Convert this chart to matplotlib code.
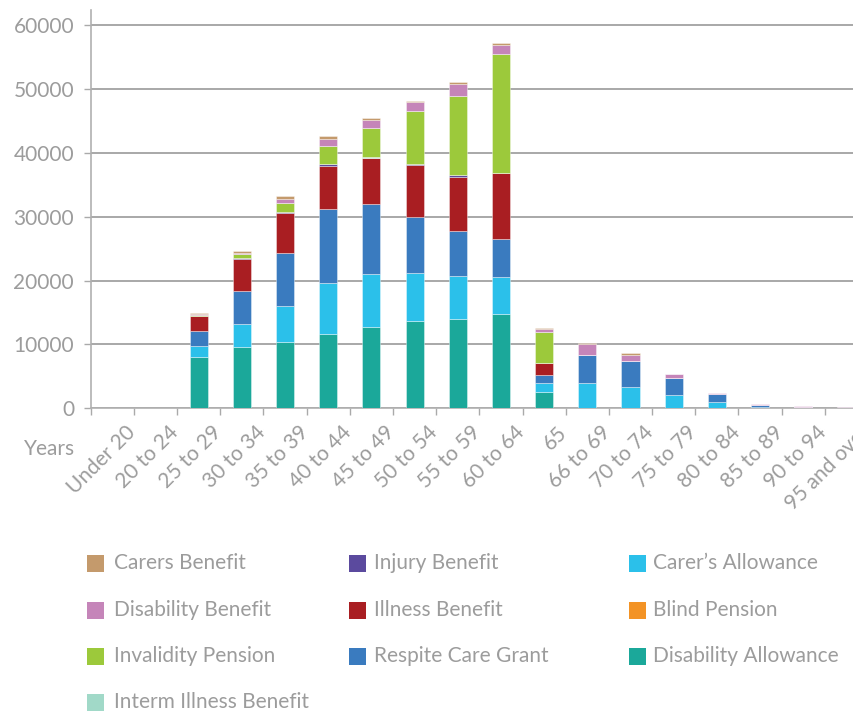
import matplotlib
matplotlib.use("Agg")
import matplotlib.pyplot as plt
from matplotlib.patches import Rectangle
from matplotlib.transforms import ScaledTranslation
import numpy as np

categories = ["Under 20", "20 to 24", "25 to 29", "30 to 34", "35 to 39", "40 to 44",
              "45 to 49", "50 to 54", "55 to 59", "60 to 64", "65", "66 to 69",
              "70 to 74", "75 to 79", "80 to 84", "85 to 89", "90 to 94", "95 and over"]

disability_allowance = [0, 0, 8040, 9600, 10400, 11640, 12800, 13630, 14030, 14810, 2630, 0, 0, 0, 0, 0, 0, 0]
carers_allowance     = [0, 0, 1780, 3670, 5600, 7940, 8240, 7620, 6680, 5700, 1340, 4030, 3360, 2150, 940, 200, 80, 40]
respite_care_grant   = [0, 0, 2240, 5160, 8400, 11600, 11030, 8720, 7000, 5950, 1170, 4290, 4020, 2560, 1250, 250, 150, 70]
illness_benefit      = [0, 0, 2400, 4970, 6130, 6840, 7130, 8080, 8550, 10330, 1940, 0, 0, 0, 50, 50, 0, 0]
injury_benefit       = [0, 0, 0, 150, 150, 200, 80, 200, 220, 80, 0, 0, 0, 0, 0, 0, 0, 0]
interm_illness       = [0, 0, 0, 0, 0, 0, 100, 0, 0, 0, 0, 0, 0, 0, 0, 0, 0, 0]
invalidity_pension   = [0, 0, 200, 650, 1520, 2930, 4580, 8250, 12520, 18710, 4810, 0, 0, 0, 0, 0, 0, 0]
blind_pension        = [0, 0, 0, 0, 0, 0, 0, 0, 0, 0, 0, 0, 0, 0, 0, 0, 0, 0]
disability_benefit   = [0, 0, 100, 200, 570, 990, 1270, 1500, 1880, 1350, 470, 1680, 940, 690, 160, 180, 130, 90]
carers_benefit       = [0, 0, 200, 200, 470, 460, 200, 220, 210, 260, 180, 160, 270, 50, 0, 0, 0, 0]

# stacking order bottom -> top
series = [
    ("Disability Allowance", disability_allowance, "#1BA89A"),
    ("Carer\u2019s Allowance", carers_allowance, "#2BC0EA"),
    ("Respite Care Grant", respite_care_grant, "#3A7BBF"),
    ("Illness Benefit", illness_benefit, "#A91E22"),
    ("Injury Benefit", injury_benefit, "#5B4A9E"),
    ("Interm Illness Benefit", interm_illness, "#A1D9C8"),
    ("Invalidity Pension", invalidity_pension, "#9CC93B"),
    ("Blind Pension", blind_pension, "#F39325"),
    ("Disability Benefit", disability_benefit, "#C585B9"),
    ("Carers Benefit", carers_benefit, "#C49A6C"),
]
colors = {name: c for name, _, c in series}

# legend layout (columns)
legend_cols = [
    ["Carers Benefit", "Disability Benefit", "Invalidity Pension", "Interm Illness Benefit"],
    ["Injury Benefit", "Illness Benefit", "Respite Care Grant"],
    ["Carer\u2019s Allowance", "Blind Pension", "Disability Allowance"],
]

plt.rcParams['font.family'] = ['Lato', 'DejaVu Sans']
TXT = "#9C9C9C"

W, H = 854, 712
fig = plt.figure(figsize=(W / 100, H / 100), dpi=100)
left_px, right_px, bottom_px, top_px = 90.7, 868.0, 408.3, 10.0
ax = fig.add_axes([left_px / W, 1 - bottom_px / H, (right_px - left_px) / W, (bottom_px - top_px) / H])

x = np.arange(len(categories)) + 0.5
bottom = np.zeros(len(categories))
for name, vals, c in series:
    v = np.array(vals, dtype=float)
    ax.bar(x, v, width=0.42, bottom=bottom, color=c, edgecolor=(1, 1, 1, 0.45),
           linewidth=0.6, zorder=3)
    bottom += v

ax.set_xlim(0, len(categories))
ax.set_ylim(0, 62400)
ax.set_yticks(np.arange(0, 60001, 10000))
ax.set_yticklabels([str(v) for v in range(0, 60001, 10000)])
ax.yaxis.grid(True, color="#9A9A9A", linewidth=1.2, zorder=1)
ax.set_axisbelow(True)

ax.set_xticks(x)
ax.set_xticklabels(categories, rotation=45, ha="right", va="top", rotation_mode="anchor")
ax.set_xticks(np.arange(0, len(categories) + 1), minor=True)
ax.tick_params(axis="x", which="major", length=0, pad=10, labelsize=15, labelcolor=TXT)
ax.tick_params(axis="x", which="minor", length=5, width=1, color="#AAAAAA")
ax.tick_params(axis="y", which="major", length=5, width=1, color="#AAAAAA", labelsize=15,
               labelcolor=TXT, pad=7)
shift = ScaledTranslation(13 / 100, 0, fig.dpi_scale_trans)
for lab in ax.get_xticklabels():
    lab.set_transform(lab.get_transform() + shift)

for s in ["top", "right"]:
    ax.spines[s].set_visible(False)
for s in ["left", "bottom"]:
    ax.spines[s].set_color("#B0B0B0")
    ax.spines[s].set_linewidth(1.2)

fig.text(75 / W, 1 - 449 / H, "Years", ha="right", va="center", fontsize=15, color=TXT)

# legend
col_sq_x = [87.3, 349.0, 629.3]
col_txt_x = [114.0, 374.0, 653.0]
row_y = [563.3, 610.3, 656.3, 702.3]
sq = 17.0
for ci, col in enumerate(legend_cols):
    for ri, name in enumerate(col):
        yc = row_y[ri]
        fig.patches.append(Rectangle((col_sq_x[ci] / W, 1 - (yc + sq / 2) / H), sq / W, sq / H,
                                     transform=fig.transFigure, facecolor=colors[name],
                                     edgecolor="none"))
        fig.text(col_txt_x[ci] / W, 1 - yc / H, name, ha="left", va="center",
                 fontsize=15, color=TXT)

fig.savefig("out.png", dpi=100)
